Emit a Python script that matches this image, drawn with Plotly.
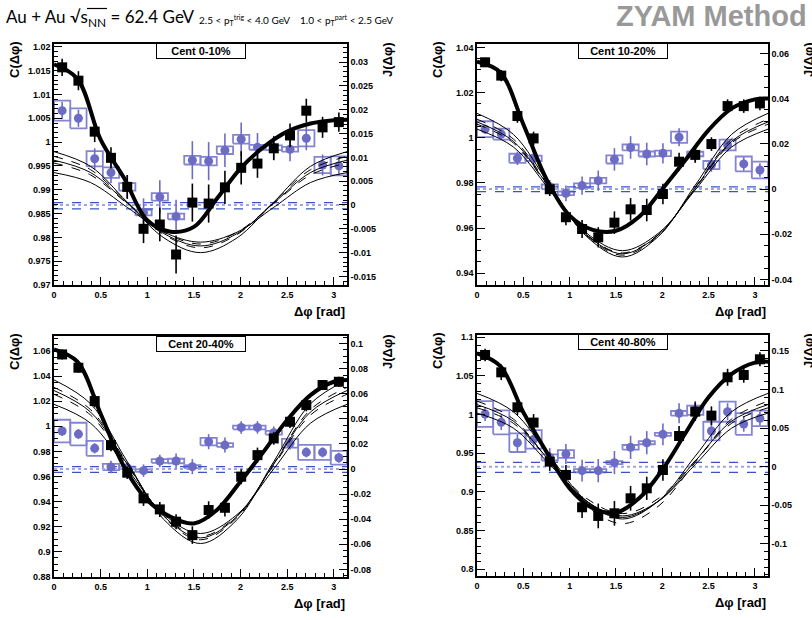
import numpy as np
import plotly.graph_objects as go

W, H = 812, 620

# ---------------- data ----------------
N_BINS = 18
BIN_EDGES = np.linspace(0, np.pi, N_BINS + 1)
DPHI = (BIN_EDGES[:-1] + BIN_EDGES[1:]) / 2

CENT_LABELS = ["Cent 0-10%", "Cent 10-20%", "Cent 20-40%", "Cent 40-80%"]

# Correlation function C(dphi) (black squares, left axis)
C_0_10 = [1.0157, 1.0129, 1.0022, 0.9967, 0.9906, 0.9818, 0.9827, 0.9764, 0.9873,
          0.9871, 0.9905, 0.9946, 0.9955, 0.9987, 1.0014, 1.0066, 1.0031, 1.0042]
C_ERR_0_10 = [0.0018, 0.002, 0.0022, 0.0022, 0.0025, 0.003, 0.0035, 0.004, 0.004,
              0.004, 0.0035, 0.0035, 0.003, 0.0025, 0.0025, 0.0025, 0.0022, 0.002]
C_10_20 = [1.0334, 1.0275, 1.0096, 0.9997, 0.9772, 0.9648, 0.9596, 0.9559, 0.9624,
           0.9683, 0.9680, 0.9751, 0.9894, 0.9924, 0.9972, 1.0140, 1.0140, 1.0152]
C_ERR_10_20 = [0.002, 0.0025, 0.003, 0.003, 0.003, 0.0035, 0.004, 0.0045, 0.005,
               0.005, 0.005, 0.0045, 0.004, 0.0035, 0.003, 0.003, 0.003, 0.003]
C_20_40 = [1.0573, 1.0467, 1.0201, 0.9850, 0.9630, 0.9425, 0.9337, 0.9239, 0.9132,
           0.9332, 0.9350, 0.9598, 0.9770, 0.9903, 1.0036, 1.0169, 1.0329, 1.0355]
C_ERR_20_40 = [0.004, 0.004, 0.005, 0.005, 0.005, 0.006, 0.006, 0.006, 0.007,
               0.007, 0.007, 0.006, 0.006, 0.005, 0.005, 0.005, 0.004, 0.004]
C_40_80 = [1.0772, 1.0547, 1.0095, 0.9897, 0.9392, 0.9220, 0.8802, 0.8690, 0.8724,
           0.8918, 0.9047, 0.9284, 0.9724, 1.0039, 0.9987, 1.0483, 1.0513, 1.0716]
C_ERR_40_80 = [0.008, 0.01, 0.01, 0.011, 0.012, 0.013, 0.014, 0.016, 0.016,
               0.016, 0.015, 0.014, 0.013, 0.012, 0.012, 0.011, 0.01, 0.009]

# Jet function J(dphi) (blue circles, right axis)
J_0_10 = [0.0198, 0.0182, 0.0097, 0.0068, 0.0038, -0.0016, 0.0017, -0.0024, 0.0094,
          0.0092, 0.0115, 0.0138, 0.0121, 0.0120, 0.0117, 0.0140, 0.0084, 0.0082]
J_ERR_0_10 = [0.0018, 0.0018, 0.0022, 0.0022, 0.0025, 0.003, 0.0035, 0.0035, 0.004,
              0.004, 0.0035, 0.0035, 0.003, 0.0025, 0.0025, 0.0025, 0.0022, 0.002]
J_SYS_0_10 = [0.0021, 0.0021, 0.0016, 0.0011, 0.0008, 0.0006, 0.0008, 0.0006, 0.0009,
              0.0009, 0.0008, 0.0009, 0.0005, 0.0005, 0.0005, 0.0017, 0.0017, 0.002]
J_10_20 = [0.0265, 0.0243, 0.0136, 0.0136, 0.0010, -0.0019, 0.0015, 0.0037, 0.0131,
           0.0184, 0.0155, 0.0158, 0.0229, 0.0155, 0.0106, 0.0195, 0.0111, 0.0084]
J_ERR_10_20 = [0.002, 0.0025, 0.003, 0.003, 0.003, 0.0035, 0.004, 0.0045, 0.005,
               0.005, 0.005, 0.0045, 0.004, 0.0035, 0.003, 0.003, 0.003, 0.003]
J_SYS_10_20 = [0.0035, 0.0024, 0.002, 0.0012, 0.001, 0.0008, 0.001, 0.0012, 0.0018,
               0.0013, 0.0011, 0.0012, 0.0025, 0.001, 0.0018, 0.0024, 0.0033, 0.0037]
J_20_40 = [0.0303, 0.0279, 0.0165, 0.0016, 0.0010, -0.0013, 0.0064, 0.0064, 0.0019,
           0.0218, 0.0191, 0.0332, 0.0332, 0.0290, 0.0205, 0.0133, 0.0133, 0.0090]
J_ERR_20_40 = [0.004, 0.004, 0.004, 0.005, 0.005, 0.005, 0.005, 0.006, 0.006,
               0.006, 0.006, 0.005, 0.005, 0.005, 0.005, 0.004, 0.004, 0.004]
J_SYS_20_40 = [0.009, 0.009, 0.006, 0.0025, 0.001, 0.001, 0.0015, 0.0018, 0.0012,
               0.003, 0.0015, 0.0015, 0.0015, 0.0015, 0.0035, 0.006, 0.006, 0.0055]
J_40_80 = [0.0681, 0.0573, 0.0310, 0.0353, 0.0120, 0.0164, -0.0052, -0.0052, 0.0052,
           0.0250, 0.0310, 0.0418, 0.0690, 0.0730, 0.0461, 0.0711, 0.0552, 0.0625]
J_ERR_40_80 = [0.009, 0.01, 0.011, 0.012, 0.012, 0.013, 0.014, 0.015, 0.015,
               0.015, 0.015, 0.014, 0.013, 0.012, 0.012, 0.011, 0.01, 0.009]
J_SYS_40_80 = [0.0166, 0.0155, 0.012, 0.012, 0.004, 0.005, 0.002, 0.002, 0.002,
               0.003, 0.002, 0.002, 0.003, 0.006, 0.012, 0.013, 0.014, 0.01]

# ZYAM normalisation uncertainty levels (in J units): upper, central, lower
ZYAM_0_10 = [0.0005, 0.0, -0.0008]
ZYAM_10_20 = [0.0009, 0.0, -0.0012]
ZYAM_20_40 = [0.0019, 0.0, -0.0027]
ZYAM_40_80 = [0.0055, 0.0, -0.0075]

# Total fit (thick black line)
FIT_X = [0, 0.25, 0.5, 0.75, 1.0, 1.25, 1.5, 1.75, 2.0, 2.25, 2.5, 2.75, 3.0, 3.1416]
FIT_0_10 = [1.0163, 1.0133, 1.0005, 0.9925, 0.9836, 0.9812, 0.9822, 0.9882, 0.9945,
            0.9990, 1.0022, 1.0039, 1.0046, 1.0047]
FIT_10_20 = [1.0337, 1.0290, 1.0060, 0.9817, 0.9655, 0.9592, 0.9588, 0.9650, 0.9772,
             0.9901, 1.0034, 1.0130, 1.0170, 1.0174]
FIT_20_40 = [1.0613, 1.0515, 1.0100, 0.9680, 0.9411, 0.9279, 0.9225, 0.9335, 0.9560,
             0.9800, 1.0050, 1.0249, 1.0355, 1.0369]
FIT_40_80 = [1.0793, 1.0630, 1.0030, 0.9520, 0.9047, 0.8789, 0.8733, 0.8918, 0.9284,
             0.9759, 1.0224, 1.0526, 1.0672, 1.0685]

# Flow-modulated background bands (thin lines)
FLOW_X = [0, 0.3927, 0.7854, 1.1781, 1.5708, 1.9635, 2.3562, 2.7489, 3.1416]
FLOW_DASH = ["solid", "dash", "solid", "dash", "solid"]
FLOW_0_10 = [
    [0.9980, 0.9949, 0.9874, 0.9799, 0.9768, 0.9799, 0.9874, 0.9949, 0.9980],
    [0.9970, 0.9942, 0.9874, 0.9806, 0.9778, 0.9806, 0.9874, 0.9942, 0.9970],
    [0.9962, 0.9936, 0.9872, 0.9808, 0.9782, 0.9808, 0.9872, 0.9936, 0.9962],
    [0.9956, 0.9931, 0.9871, 0.9811, 0.9786, 0.9811, 0.9871, 0.9931, 0.9956],
    [0.9936, 0.9915, 0.9863, 0.9811, 0.9790, 0.9811, 0.9863, 0.9915, 0.9936],
]
FLOW_10_20 = [
    [1.0108, 1.0015, 0.9790, 0.9565, 0.9472, 0.9565, 0.9790, 1.0015, 1.0108],
    [1.0082, 0.9994, 0.9781, 0.9568, 0.9480, 0.9568, 0.9781, 0.9994, 1.0082],
    [1.0070, 0.9984, 0.9778, 0.9572, 0.9486, 0.9572, 0.9778, 0.9984, 1.0070],
    [1.0060, 0.9977, 0.9775, 0.9573, 0.9490, 0.9573, 0.9775, 0.9977, 1.0060],
    [1.0038, 0.9959, 0.9769, 0.9579, 0.9500, 0.9579, 0.9769, 0.9959, 1.0038],
]
FLOW_20_40 = [
    [1.0370, 1.0179, 0.9718, 0.9256, 0.9065, 0.9256, 0.9718, 1.0179, 1.0370],
    [1.0310, 1.0132, 0.9703, 0.9273, 0.9095, 0.9273, 0.9703, 1.0132, 1.0310],
    [1.0285, 1.0113, 0.9698, 0.9282, 0.9110, 0.9282, 0.9698, 1.0113, 1.0285],
    [1.0255, 1.0089, 0.9689, 0.9288, 0.9122, 0.9288, 0.9689, 1.0089, 1.0255],
    [1.0175, 1.0024, 0.9660, 0.9296, 0.9145, 0.9296, 0.9660, 1.0024, 1.0175],
]
FLOW_40_80 = [
    [1.0275, 1.0037, 0.9463, 0.8888, 0.8650, 0.8888, 0.9463, 1.0037, 1.0275],
    [1.0175, 0.9943, 0.9383, 0.8822, 0.8590, 0.8822, 0.9383, 0.9943, 1.0175],
    [1.0130, 0.9916, 0.9400, 0.8884, 0.8670, 0.8884, 0.9400, 0.9916, 1.0130],
    [1.0088, 0.9888, 0.9404, 0.8920, 0.8720, 0.8920, 0.9404, 0.9888, 1.0088],
    [1.0020, 0.9825, 0.9355, 0.8885, 0.8690, 0.8885, 0.9355, 0.9825, 1.0020],
]

# Tick labels
X_TICKS = [0, 0.5, 1, 1.5, 2, 2.5, 3]
X_TICK_TEXT = ["0", "0.5", "1", "1.5", "2", "2.5", "3"]
C_TICKS_0_10 = [0.97, 0.975, 0.98, 0.985, 0.99, 0.995, 1.0, 1.005, 1.01, 1.015, 1.02]
C_TEXT_0_10 = ["0.97", "0.975", "0.98", "0.985", "0.99", "0.995", "1", "1.005", "1.01", "1.015", "1.02"]
J_TICKS_0_10 = [-0.015, -0.01, -0.005, 0, 0.005, 0.01, 0.015, 0.02, 0.025, 0.03]
J_TEXT_0_10 = ["-0.015", "-0.01", "-0.005", "0", "0.005", "0.01", "0.015", "0.02", "0.025", "0.03"]
C_TICKS_10_20 = [0.94, 0.96, 0.98, 1.0, 1.02, 1.04]
C_TEXT_10_20 = ["0.94", "0.96", "0.98", "1", "1.02", "1.04"]
J_TICKS_10_20 = [-0.04, -0.02, 0, 0.02, 0.04, 0.06]
J_TEXT_10_20 = ["-0.04", "-0.02", "0", "0.02", "0.04", "0.06"]
C_TICKS_20_40 = [0.88, 0.9, 0.92, 0.94, 0.96, 0.98, 1.0, 1.02, 1.04, 1.06]
C_TEXT_20_40 = ["0.88", "0.9", "0.92", "0.94", "0.96", "0.98", "1", "1.02", "1.04", "1.06"]
J_TICKS_20_40 = [-0.08, -0.06, -0.04, -0.02, 0, 0.02, 0.04, 0.06, 0.08, 0.1]
J_TEXT_20_40 = ["-0.08", "-0.06", "-0.04", "-0.02", "0", "0.02", "0.04", "0.06", "0.08", "0.1"]
C_TICKS_40_80 = [0.8, 0.85, 0.9, 0.95, 1.0, 1.05, 1.1]
C_TEXT_40_80 = ["0.8", "0.85", "0.9", "0.95", "1", "1.05", "1.1"]
J_TICKS_40_80 = [-0.1, -0.05, 0, 0.05, 0.1, 0.15]
J_TEXT_40_80 = ["-0.1", "-0.05", "0", "0.05", "0.1", "0.15"]

# ---------------- layout / styles ----------------
BLACK = "#000000"
BLUE_PT = "#6c6cc4"
BLUE_BOX = "#8484d2"
BLUE_DASH = "#3656c8"
BLUE_DOT = "#9ea6e6"
TICK_FONT = dict(family="Liberation Sans, Arial, sans-serif", size=9, color=BLACK, weight="bold")
TITLE_FONT = dict(family="Liberation Sans, Arial, sans-serif", size=13, color=BLACK, weight="bold")

panels = [
    dict(c=C_0_10, ce=C_ERR_0_10, j=J_0_10, je=J_ERR_0_10, js=J_SYS_0_10, z=ZYAM_0_10,
         fit=FIT_0_10, flow=FLOW_0_10, label=CENT_LABELS[0],
         xpx=(54, 347), ypx=(44, 285), crange=(0.97, 1.0206), jrange=(-0.0168, 0.0338),
         ct=(C_TICKS_0_10, C_TEXT_0_10, 0.001), jt=(J_TICKS_0_10, J_TEXT_0_10, 0.001)),
    dict(c=C_10_20, ce=C_ERR_10_20, j=J_10_20, je=J_ERR_10_20, js=J_SYS_10_20, z=ZYAM_10_20,
         fit=FIT_10_20, flow=FLOW_10_20, label=CENT_LABELS[1],
         xpx=(477, 768), ypx=(44, 285), crange=(0.9348, 1.0415), jrange=(-0.0425, 0.0642),
         ct=(C_TICKS_10_20, C_TEXT_10_20, 0.005), jt=(J_TICKS_10_20, J_TEXT_10_20, 0.005)),
    dict(c=C_20_40, ce=C_ERR_20_40, j=J_20_40, je=J_ERR_20_40, js=J_SYS_20_40, z=ZYAM_20_40,
         fit=FIT_20_40, flow=FLOW_20_40, label=CENT_LABELS[2],
         xpx=(54, 347), ypx=(336, 577), crange=(0.8798, 1.072), jrange=(-0.0861, 0.1061),
         ct=(C_TICKS_20_40, C_TEXT_20_40, 0.005), jt=(J_TICKS_20_40, J_TEXT_20_40, 0.005)),
    dict(c=C_40_80, ce=C_ERR_40_80, j=J_40_80, je=J_ERR_40_80, js=J_SYS_40_80, z=ZYAM_40_80,
         fit=FIT_40_80, flow=FLOW_40_80, label=CENT_LABELS[3],
         xpx=(477, 768), ypx=(335, 576), crange=(0.7913, 1.103), jrange=(-0.1414, 0.1703),
         ct=(C_TICKS_40_80, C_TEXT_40_80, 0.01), jt=(J_TICKS_40_80, J_TEXT_40_80, 0.01)),
]

fig = go.Figure()
layout = dict(width=W, height=H, margin=dict(l=0, r=0, t=0, b=0, autoexpand=False),
              paper_bgcolor="white", plot_bgcolor="white", showlegend=False)
annotations = []
shapes = []

for i, p in enumerate(panels):
    n = i + 1
    xa = "x" if n == 1 else f"x{n}"
    ja = "y" if n == 1 else f"y{2 * n - 1}"   # J axis (primary, right)
    ca = f"y{2 * n}"                          # C axis (overlay, left)
    xdom = [p["xpx"][0] / W, p["xpx"][1] / W]
    ydom = [1 - p["ypx"][1] / H, 1 - p["ypx"][0] / H]

    layout["xaxis" if n == 1 else f"xaxis{n}"] = dict(
        domain=xdom, anchor=ja, range=[0, np.pi], showgrid=False, zeroline=False,
        showline=True, linecolor=BLACK, linewidth=1.5, mirror=True,
        ticks="inside", ticklen=8, tickwidth=1, tickcolor=BLACK,
        tickvals=X_TICKS, ticktext=X_TICK_TEXT, tickfont=TICK_FONT,
        minor=dict(ticks="inside", ticklen=4, dtick=0.1, tick0=0, tickcolor=BLACK, showgrid=False))
    layout["yaxis" if n == 1 else f"yaxis{2 * n - 1}"] = dict(
        domain=ydom, anchor=xa, side="right", range=list(p["jrange"]), showgrid=False,
        zeroline=False, showline=True, linecolor=BLACK, linewidth=1.5,
        ticks="inside", ticklen=8, tickwidth=1, tickcolor=BLACK,
        tickvals=p["jt"][0], ticktext=p["jt"][1], tickfont=TICK_FONT,
        minor=dict(ticks="inside", ticklen=4, dtick=p["jt"][2], tick0=0, tickcolor=BLACK, showgrid=False))
    layout[f"yaxis{2 * n}"] = dict(
        overlaying=ja, anchor=xa, side="left", range=list(p["crange"]), showgrid=False,
        zeroline=False, showline=True, linecolor=BLACK, linewidth=1.5,
        ticks="inside", ticklen=8, tickwidth=1, tickcolor=BLACK,
        tickvals=p["ct"][0], ticktext=p["ct"][1], tickfont=TICK_FONT,
        minor=dict(ticks="inside", ticklen=4, dtick=p["ct"][2], tick0=0, tickcolor=BLACK, showgrid=False))

    # systematic boxes for J
    bx, by = [], []
    for k in range(N_BINS):
        lo = p["j"][k] - p["js"][k]
        hi = p["j"][k] + p["js"][k]
        x0, x1 = BIN_EDGES[k], BIN_EDGES[k + 1]
        bx += [x0, x1, x1, x0, x0, None]
        by += [lo, lo, hi, hi, lo, None]
    fig.add_trace(go.Scatter(x=bx, y=by, mode="lines", xaxis=xa, yaxis=ja,
                             line=dict(color=BLUE_BOX, width=1.8), hoverinfo="skip"))
    # ZYAM level lines
    for lvl, style in zip(p["z"], ["dash", "dot", "dash"]):
        fig.add_trace(go.Scatter(
            x=[0, np.pi], y=[lvl, lvl], mode="lines", xaxis=xa, yaxis=ja,
            line=dict(color=BLUE_DOT if style == "dot" else BLUE_DASH,
                      width=2 if style == "dot" else 1.2, dash=style)))
    # J points
    fig.add_trace(go.Scatter(
        x=DPHI, y=p["j"], mode="markers", xaxis=xa, yaxis=ja,
        marker=dict(symbol="circle", size=9, color=BLUE_PT),
        error_y=dict(type="data", array=p["je"], color=BLUE_PT, thickness=1.6, width=0)))
    # flow background lines
    for curve, dash in zip(p["flow"], FLOW_DASH):
        fig.add_trace(go.Scatter(x=FLOW_X, y=curve, mode="lines", xaxis=xa, yaxis=ca,
                                 line=dict(color=BLACK, width=1, dash=dash, shape="spline")))
    # total fit
    fig.add_trace(go.Scatter(x=FIT_X, y=p["fit"], mode="lines", xaxis=xa, yaxis=ca,
                             line=dict(color=BLACK, width=4, shape="spline")))
    # C points
    fig.add_trace(go.Scatter(
        x=DPHI, y=p["c"], mode="markers", xaxis=xa, yaxis=ca,
        marker=dict(symbol="square", size=10, color=BLACK),
        error_y=dict(type="data", array=p["ce"], color=BLACK, thickness=1.6, width=0)))

    # labels
    x0p, x1p = p["xpx"]
    y0p, y1p = p["ypx"]
    annotations.append(dict(
        text=p["label"], xref="paper", yref="paper",
        x=(x0p + x1p) / 2 / W - 0.0, y=1 - (y0p + 7.5) / H, xanchor="center", yanchor="middle",
        showarrow=False, bgcolor="white", bordercolor=BLACK, borderwidth=1,
        width=86, height=12, borderpad=1,
        font=dict(family="Liberation Sans, Arial, sans-serif", size=11, color=BLACK, weight="bold")))
    annotations.append(dict(
        text="C(Δφ)", xref="paper", yref="paper", x=(x0p - 40) / W, y=1 - (y0p + 16) / H,
        xanchor="center", yanchor="middle", textangle=-90, showarrow=False, font=TITLE_FONT))
    annotations.append(dict(
        text="J(Δφ)", xref="paper", yref="paper", x=(x1p + 40) / W, y=1 - (y0p + 16) / H,
        xanchor="center", yanchor="middle", textangle=-90, showarrow=False, font=TITLE_FONT))
    annotations.append(dict(
        text="Δφ [rad]", xref="paper", yref="paper", x=x1p / W, y=1 - (y1p + 26) / H,
        xanchor="right", yanchor="middle", showarrow=False, font=TITLE_FONT))

# header
HEAD_FONT = "Lato, Roboto, Liberation Sans, sans-serif"
annotations.append(dict(
    text="Au + Au √s<sub>NN</sub> = 62.4 GeV", xref="paper", yref="paper",
    x=4 / W, y=1 - 18 / H, xanchor="left", yanchor="middle", showarrow=False,
    font=dict(family=HEAD_FONT, size=17, color=BLACK)))
annotations.append(dict(
    text="2.5 < p<sub>T</sub><sup>trig</sup> < 4.0 GeV", xref="paper", yref="paper",
    x=197 / W, y=1 - 20 / H, xanchor="left", yanchor="middle", showarrow=False,
    font=dict(family=HEAD_FONT, size=10, color=BLACK)))
annotations.append(dict(
    text="1.0 < p<sub>T</sub><sup>part</sup> < 2.5 GeV", xref="paper", yref="paper",
    x=298 / W, y=1 - 20 / H, xanchor="left", yanchor="middle", showarrow=False,
    font=dict(family=HEAD_FONT, size=10, color=BLACK)))
annotations.append(dict(
    text="ZYAM Method", xref="paper", yref="paper",
    x=809 / W, y=1 - 16 / H, xanchor="right", yanchor="middle", showarrow=False,
    font=dict(family="Liberation Sans, Arial, sans-serif", size=29, color="#999999", weight="bold")))

# vinculum of the square root over s_NN
shapes.append(dict(type="line", xref="paper", yref="paper",
                   x0=87 / W, x1=107 / W, y0=1 - 8.5 / H, y1=1 - 8.5 / H,
                   line=dict(color=BLACK, width=1.2)))

layout["annotations"] = annotations
layout["shapes"] = shapes
fig.update_layout(**layout)
fig.write_html("out.html", config={"displayModeBar": False},
               post_script="document.body.style.margin='0px';")
